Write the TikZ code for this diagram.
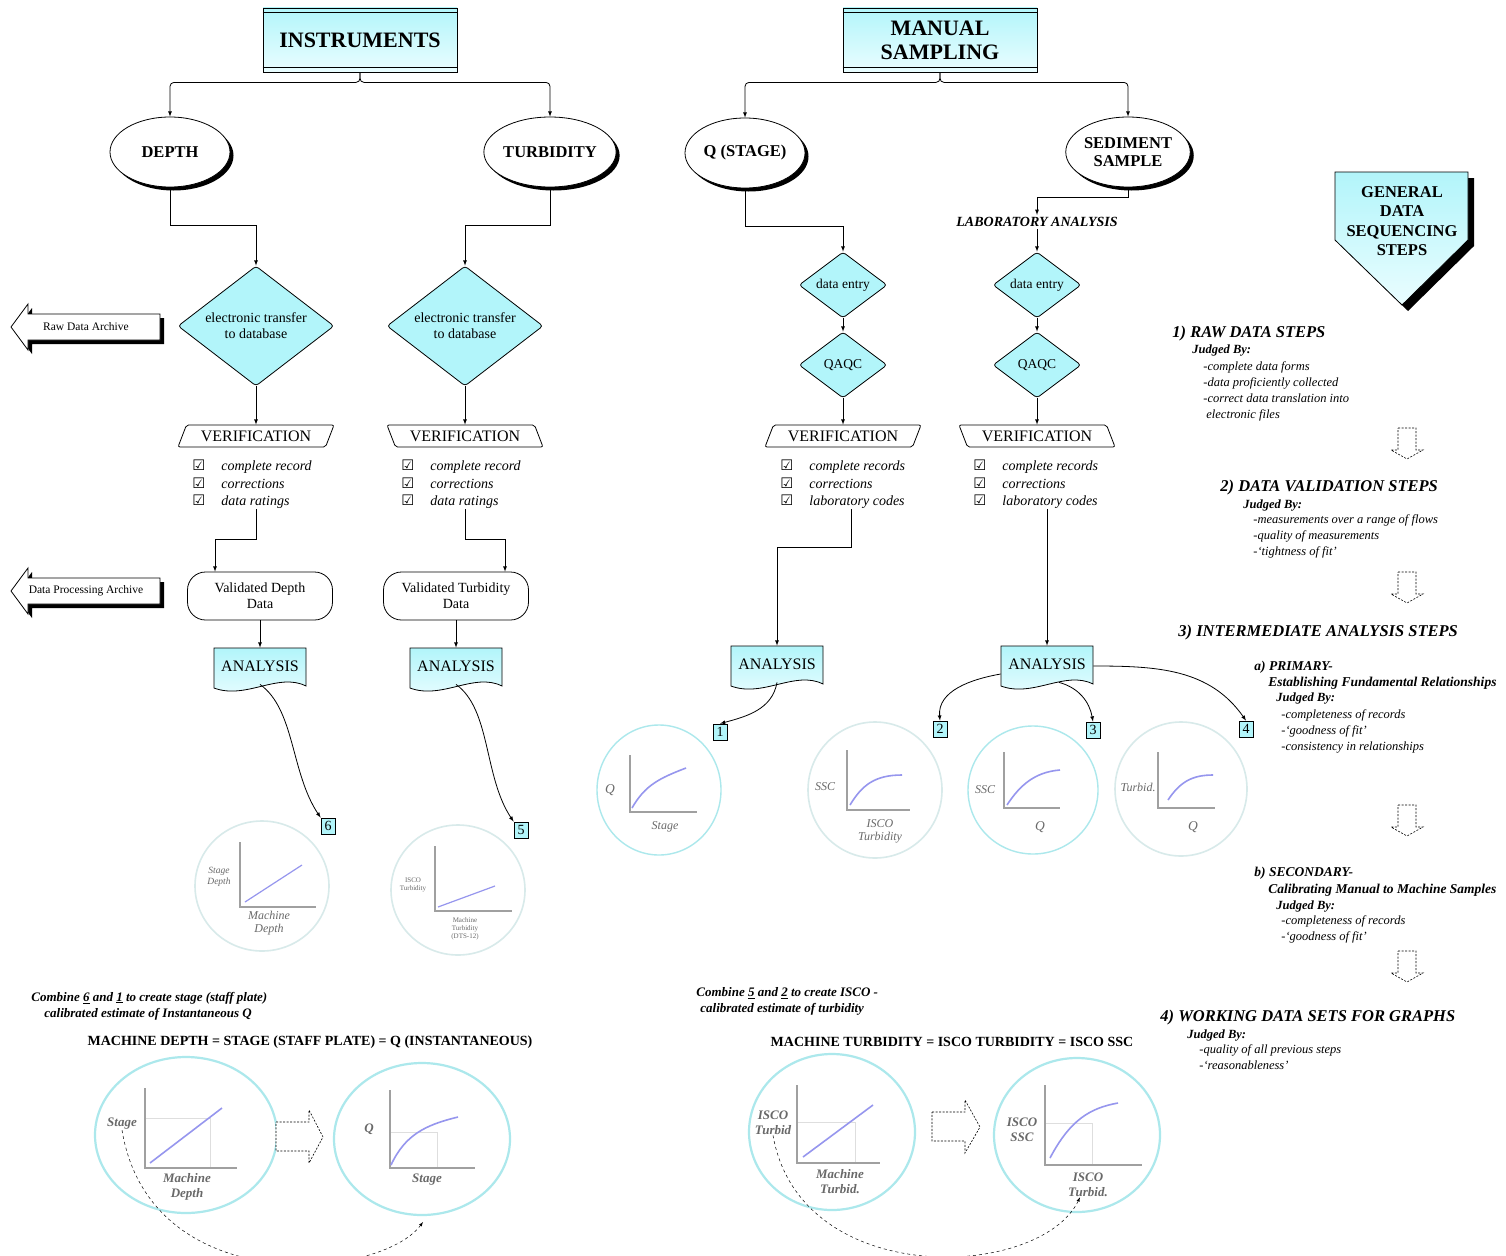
\documentclass[tikz,border=0pt]{standalone}
\usepackage{fontspec}
\setmainfont{Liberation Serif}
\newfontfamily\symfont{DejaVu Sans}
\usepackage{tikz}
\usetikzlibrary{calc}
\usetikzlibrary{arrows.meta}
\usetikzlibrary{shapes.geometric}
\usetikzlibrary{shadows}
\tikzset{>=latex}

\definecolor{boxcyan}{RGB}{178,245,250}
\definecolor{palecyan}{RGB}{234,253,255}
\definecolor{ringcyan}{RGB}{172,232,236}
\definecolor{ringgrey}{RGB}{216,234,234}
\definecolor{axisgrey}{RGB}{160,160,160}
\definecolor{curveblue}{RGB}{150,150,238}
\definecolor{labelgrey}{RGB}{105,105,105}

\newcommand{\fs}[2]{\fontsize{#1}{#2}\selectfont}
\newcommand{\chk}{\makebox[29pt][l]{\symfont\fs{14.5}{14}☑}}

% wavy-bottomed document box behind an ANALYSIS node
\newcommand{\docshape}[2]{%
  \shade[draw, top color=boxcyan, bottom color=palecyan]
    (#1-46,#2-18) -- (#1+46,#2-18) -- (#1+46,#2+20)
    .. controls (#1+18,#2+6) and (#1-14,#2+34) .. (#1-46,#2+22) -- cycle;}

\tikzset{
  headbox/.style={rectangle, draw, minimum width=194, minimum height=64,
    top color=boxcyan, bottom color=palecyan, align=center, font=\fs{22}{24}\bfseries},
  oval/.style={ellipse, draw, fill=white, minimum width=120, minimum height=70, inner sep=0,
    align=center, font=\fs{16.5}{18}\bfseries,
    drop shadow={shadow xshift=3.5pt, shadow yshift=-3.5pt, opacity=1, fill=black}},
  decide/.style={diamond, draw, fill=boxcyan, rounded corners=3pt, inner sep=0, aspect=1.3,
    align=center},
  verifyR/.style={trapezium, trapezium left angle=52, trapezium right angle=128,
    trapezium stretches body, draw, fill=white, rounded corners=2pt, minimum width=156,
    minimum height=22, inner sep=0, font=\fs{16}{16}},
  verifyL/.style={verifyR, trapezium left angle=128, trapezium right angle=52},
  checks/.style={anchor=north west, align=left, inner sep=0, font=\fs{14}{17.5}\itshape},
  valid/.style={rectangle, draw, rounded corners=18pt, minimum width=145, minimum height=48,
    align=center, font=\fs{14}{16}},
  analysis/.style={minimum width=92, minimum height=36, inner sep=0, font=\fs{16}{16}},
  numbox/.style={draw, fill=boxcyan, minimum width=14, minimum height=16, inner sep=0,
    font=\fs{14}{14}},
  archive/.style={inner sep=0, font=\fs{11.5}{12}},
  stephead/.style={anchor=west, inner sep=0, font=\fs{16.5}{18}\bfseries\itshape},
  substep/.style={anchor=west, inner sep=0, font=\fs{13.5}{15}\bfseries\itshape},
  judged/.style={anchor=west, inner sep=0, font=\fs{12.5}{14}\bfseries\itshape},
  crit/.style={anchor=north west, inner sep=0, align=left, font=\fs{12.5}{16}\itshape},
  combine/.style={anchor=west, inner sep=0, font=\fs{13}{15}\bfseries\itshape},
  equation/.style={inner sep=0, font=\fs{14}{16}\bfseries},
  ring/.style={draw=ringcyan, line width=2.2pt},
  greyring/.style={draw=ringgrey, line width=1.6pt},
  axis/.style={draw=axisgrey, line width=2pt},
  fitline/.style={draw=curveblue, line width=1.6pt},
  guide/.style={draw=axisgrey!35, line width=0.6pt},
  glabel/.style={inner sep=0, align=center, text=labelgrey, font=\fs{12}{13}\itshape},
  biglabel/.style={inner sep=0, align=center, text=labelgrey, font=\fs{13}{15}\bfseries\itshape},
  hollow/.style={draw, dashed, dash pattern=on 2pt off 1.5pt, line width=0.6pt, fill=white},
}

\begin{document}
\begin{tikzpicture}[x=1pt, y=-1pt, line width=0.8pt]
\useasboundingbox (0,0) rectangle (1506,1255);
\fill[white] (0,0) rectangle (1506,1255);

% sources
\node[headbox] (instr) at (360,40) {INSTRUMENTS};
\node[headbox] (manual) at (940,40) {MANUAL\\SAMPLING};
\foreach \n in {instr,manual} {
  \draw ([yshift=-5pt]\n.north west) -- ([yshift=-5pt]\n.north east);
  \draw ([yshift=5pt]\n.south west) -- ([yshift=5pt]\n.south east);
}

\node[oval] (depth) at (170,152) {DEPTH};
\node[oval] (turb) at (550,152) {TURBIDITY};
\node[oval] (qstage) at (745,153) {Q (STAGE)};
\node[oval] (sed) at (1128,152) {SEDIMENT\\SAMPLE};

\draw[->, rounded corners=4pt] (instr.south) -- ++(0,10) -| (depth.north);
\draw[->, rounded corners=4pt] (instr.south) -- ++(0,10) -| (turb.north);
\draw[->, rounded corners=4pt] (manual.south) -- ++(0,10) -| (qstage.north);
\draw[->, rounded corners=4pt] (manual.south) -- ++(0,10) -| (sed.north);

% entry and checking
\node[decide, minimum width=156, minimum height=120, font=\fs{14}{16}] (et1) at (256,326) {electronic transfer\\to database};
\node[decide, minimum width=156, minimum height=120, font=\fs{14}{16}] (et2) at (465,326) {electronic transfer\\to database};
\node[decide, minimum width=88, minimum height=66, font=\fs{13.5}{14}] (de1) at (843,285) {data entry};
\node[decide, minimum width=88, minimum height=66, font=\fs{13.5}{14}] (qa1) at (843,365) {QAQC};
\node[decide, minimum width=88, minimum height=66, font=\fs{13.5}{14}] (de2) at (1037,285) {data entry};
\node[decide, minimum width=88, minimum height=66, font=\fs{13.5}{14}] (qa2) at (1037,365) {QAQC};
\node[inner sep=2pt, font=\fs{14}{14}\bfseries\itshape] (lab) at (1037,222) {LABORATORY ANALYSIS};

\draw[->] (depth.south) -- ++(0,38) -| (et1.north);
\draw[->] (turb.south) -- ++(0,38) -| (et2.north);
\draw[->] (qstage.south) -- ++(0,38) -| (de1.north);
\draw[->] (sed.south) -- ++(0,10) -| (lab.north);
\draw[->] (lab.south) -- (de2.north);
\draw[->] (de1) -- (qa1);
\draw[->] (de2) -- (qa2);

\node[verifyR] (v1) at (256,436) {VERIFICATION};
\node[verifyL] (v2) at (465,436) {VERIFICATION};
\node[verifyR] (v3) at (843,436) {VERIFICATION};
\node[verifyL] (v4) at (1037,436) {VERIFICATION};
\draw[->] (et1) -- (v1);
\draw[->] (et2) -- (v2);
\draw[->] (qa1) -- (v3);
\draw[->] (qa2) -- (v4);

\node[checks] (chk1) at (192,460) {\chk complete record\\\chk corrections\\\chk data ratings};
\node[checks] (chk2) at (401,460) {\chk complete record\\\chk corrections\\\chk data ratings};
\node[checks] (chk3) at (780,460) {\chk complete records\\\chk corrections\\\chk laboratory codes};
\node[checks] (chk4) at (973,460) {\chk complete records\\\chk corrections\\\chk laboratory codes};

\node[valid] (val1) at (260,596) {Validated Depth\\Data};
\node[valid] (val2) at (456,596) {Validated Turbidity\\Data};
\draw[->] (v1 |- chk1.south) -- ++(0,30) -| ([xshift=-45pt]val1.north);
\draw[->] (v2 |- chk2.south) -- ++(0,30) -| ([xshift=49pt]val2.north);

% archives
\foreach \y/\n/\t in {327/raw/Raw Data Archive,591/proc/Data Processing Archive} {
  \fill[shift={(4,4)}] (160,\y-13) -- (28,\y-13) -- (28,\y-23) -- (11,\y) -- (28,\y+23) -- (28,\y+13) -- (160,\y+13) -- cycle;
  \draw[fill=white] (160,\y-13) -- (28,\y-13) -- (28,\y-23) -- (11,\y) -- (28,\y+23) -- (28,\y+13) -- (160,\y+13) -- cycle;
  \node[archive] (\n) at (86,\y) {\t};
}

% analysis
\docshape{260}{666}
\node[analysis] (anal1) at (260,666) {ANALYSIS};
\docshape{456}{666}
\node[analysis] (anal2) at (456,666) {ANALYSIS};
\docshape{777}{664}
\node[analysis] (anal3) at (777,664) {ANALYSIS};
\docshape{1047}{664}
\node[analysis] (anal4) at (1047,664) {ANALYSIS};

\draw[->] (val1) -- (anal1);
\draw[->] (val2) -- (anal2);
\draw[->] ($(v3 |- chk3.south)+(8,0)$) -- ++(0,38) -| (anal3.north);
\draw[->] (anal4.north |- chk4.south) -- (anal4.north);

\node[numbox] (n1) at (720,732) {1};
\node[numbox] (n2) at (940,729) {2};
\node[numbox] (n3) at (1093,730) {3};
\node[numbox] (n4) at (1246,729) {4};
\node[numbox] (n5) at (521,830) {5};
\node[numbox] (n6) at (328,826) {6};

\draw[->] (anal1.south) .. controls +(35,25) and +(-30,-45) .. (n6.north west);
\draw[->] (anal2.south) .. controls +(35,25) and +(-30,-45) .. (n5.north west);
\draw[->] (anal3.south) to[out=-100, in=15] (n1.north);
\draw[->] ([yshift=-10pt]anal4.west) to[out=190, in=95] (n2.north);
\draw[->] ([xshift=12pt]anal4.south) to[out=-15, in=100] (n3.north);
\draw[->] ([yshift=-2pt]anal4.east) to[out=0, in=125] (n4.north);

% small graphs
\draw[greyring] (262,886) ellipse (67 and 65);
\draw[axis, line width=1.5pt] (240,842) -- (240,907) -- (316,907);
\draw[fitline, line width=1.2pt] (245,902) -- (302,865);
\node[glabel, font=\fs{9.5}{11}\itshape] (g1) at (219,877) {Stage\\Depth};
\node[glabel] (g2) at (269,923) {Machine\\Depth};

\draw[greyring] (458,890) ellipse (67 and 65);
\draw[axis, line width=1.5pt] (435,846) -- (435,911) -- (512,911);
\draw[fitline, line width=1.2pt] (438,907) -- (495,886);
\node[glabel, font=\fs{7}{8}] (g3) at (413,885) {ISCO\\Turbidity};
\node[glabel, font=\fs{7}{8}] (g4) at (465,929) {Machine\\Turbidity\\(DTS-12)};

\draw[ring, line width=1.4pt] (659,790) ellipse (62 and 65);
\draw[axis] (630,755) -- (630,812) -- (697,812);
\draw[fitline] (632,808) .. controls (645,785) and (660,778) .. (686,768);
\node[glabel, font=\fs{13.5}{14}\itshape] (g5) at (610,790) {Q};
\node[glabel] (g6) at (665,827) {Stage};

\draw[greyring] (875,790) ellipse (67 and 68);
\draw[axis] (847,750) -- (847,810) -- (910,810);
\draw[fitline] (850,805) .. controls (862,785) and (875,775) .. (902,775);
\node[glabel] (g7) at (825,787) {SSC};
\node[glabel] (g8) at (880,831) {ISCO\\Turbidity};

\draw[ring, line width=1.4pt] (1033,790) ellipse (65 and 64);
\draw[axis] (1004,752) -- (1004,808) -- (1060,808);
\draw[fitline] (1007,805) .. controls (1020,785) and (1035,772) .. (1060,770);
\node[glabel] (g9) at (985,790) {SSC};
\node[glabel, font=\fs{13.5}{14}\itshape] (g10) at (1040,827) {Q};

\draw[greyring] (1181,789) ellipse (66 and 67);
\draw[axis] (1158,752) -- (1158,808) -- (1215,808);
\draw[fitline] (1168,800) .. controls (1180,782) and (1192,775) .. (1213,775);
\node[glabel] (g11) at (1138,787) {Turbid.};
\node[glabel, font=\fs{13.5}{14}\itshape] (g12) at (1193,827) {Q};

% general sequencing steps
\fill[shift={(6,6)}] (1335,172) -- (1468,172) -- (1468,240) -- (1402,305) -- (1335,240) -- cycle;
\shade[draw, top color=boxcyan, bottom color=palecyan] (1335,172) -- (1468,172) -- (1468,240) -- (1402,305) -- (1335,240) -- cycle;
\node[align=center, font=\fs{16.5}{19.5}\bfseries] (gen) at (1402,221) {GENERAL\\DATA\\SEQUENCING\\STEPS};

\node[stephead] (s1) at (1172,334) {1) RAW DATA STEPS};
\node[judged] (j1) at (1192,351) {Judged By:};
\node[crit] (c1) at (1203,361) {-complete data forms\\-data proficiently collected\\-correct data translation into\\\hspace*{3pt}electronic files};

\node[stephead] (s2) at (1220,488) {2) DATA VALIDATION STEPS};
\node[judged] (j2) at (1243,506) {Judged By:};
\node[crit] (c2) at (1253,514) {-measurements over a range of flows\\-quality of measurements\\-`tightness of fit'};

\node[stephead] (s3) at (1178,633) {3) INTERMEDIATE ANALYSIS STEPS};
\node[substep] (s3a) at (1254,667) {a) PRIMARY-};
\node[substep] (s3b) at (1268,683) {Establishing Fundamental Relationships};
\node[judged] (j3) at (1276,699) {Judged By:};
\node[crit] (c3) at (1281,709) {-completeness of records\\-`goodness of fit'\\-consistency in relationships};

\node[substep] (s4a) at (1254,873) {b) SECONDARY-};
\node[substep] (s4b) at (1268,890) {Calibrating Manual to Machine Samples};
\node[judged] (j4) at (1276,906) {Judged By:};
\node[crit] (c4) at (1281,915) {-completeness of records\\-`goodness of fit'};

\node[stephead] (s5) at (1160,1018) {4) WORKING DATA SETS FOR GRAPHS};
\node[judged] (j5) at (1187,1035) {Judged By:};
\node[crit] (c5) at (1199,1044) {-quality of all previous steps\\-`reasonableness'};

\foreach \y in {428,572,805,951} {
  \draw[hollow] (1398,\y) -- (1416,\y) -- (1416,\y+22) -- (1423,\y+22) -- (1407,\y+31) -- (1391,\y+22) -- (1398,\y+22) -- cycle;
}

% combining depth and stage
\node[combine] (comb1) at (31,998) {Combine \underline{6} and \underline{1} to create stage (staff plate)};
\node[combine] (comb2) at (44,1014) {calibrated estimate of Instantaneous Q};
\node[equation] (eq1) at (310,1042) {MACHINE DEPTH = STAGE (STAFF PLATE) = Q (INSTANTANEOUS)};

\draw[ring] (186,1135) ellipse (91 and 78);
\draw[guide] (145,1118) -- (210,1118) -- (210,1168);
\draw[axis] (145,1088) -- (145,1168) -- (237,1168);
\draw[fitline] (150,1163) -- (222,1108);
\node[biglabel] (b1) at (122,1124) {Stage};
\node[biglabel] (b2) at (187,1187) {Machine\\Depth};

\draw[hollow] (276,1122) -- (309,1122) -- (309,1110) -- (323,1137) -- (309,1163) -- (309,1151) -- (276,1151) -- cycle;

\draw[ring] (422,1139) ellipse (88 and 76);
\draw[guide] (390,1132) -- (437,1132) -- (437,1168);
\draw[axis] (390,1090) -- (390,1168) -- (475,1168);
\draw[fitline] (391,1165) .. controls (405,1135) and (425,1125) .. (458,1117);
\node[biglabel] (b3) at (369,1129) {Q};
\node[biglabel] (b4) at (427,1180) {Stage};
\coordinate (e1) at (423,1222);
\draw[->, dashed, line width=0.5pt] (b1.south) .. controls (150,1300) and (380,1280) .. (e1);

% combining turbidity and ssc
\node[combine] (comb3) at (696,993) {Combine \underline{5} and \underline{2} to create ISCO -};
\node[combine] (comb4) at (700,1009) {calibrated estimate of turbidity};
\node[equation] (eq2) at (952,1042) {MACHINE TURBIDITY = ISCO TURBIDITY = ISCO SSC};

\draw[ring] (832,1132) ellipse (83 and 78);
\draw[guide] (797,1122) -- (855,1122) -- (855,1163);
\draw[axis] (797,1085) -- (797,1163) -- (880,1163);
\draw[fitline] (803,1157) -- (873,1105);
\node[biglabel] (b5) at (773,1123) {ISCO\\Turbid};
\node[biglabel] (b6) at (840,1182) {Machine\\Turbid.};

\draw[hollow] (932,1112) -- (965,1112) -- (965,1100) -- (980,1127) -- (965,1153) -- (965,1141) -- (932,1141) -- cycle;

\draw[ring] (1077,1135) ellipse (83 and 77);
\draw[guide] (1045,1123) -- (1092,1123) -- (1092,1165);
\draw[axis] (1045,1085) -- (1045,1165) -- (1142,1165);
\draw[fitline] (1050,1158) .. controls (1070,1120) and (1090,1108) .. (1118,1103);
\node[biglabel] (b7) at (1022,1130) {ISCO\\SSC};
\node[biglabel] (b8) at (1088,1185) {ISCO\\Turbid.};
\draw[->, dashed, line width=0.5pt] (b5.south) .. controls (800,1290) and (1040,1280) .. ([xshift=-8pt]b8.south);
\end{tikzpicture}
\end{document}
